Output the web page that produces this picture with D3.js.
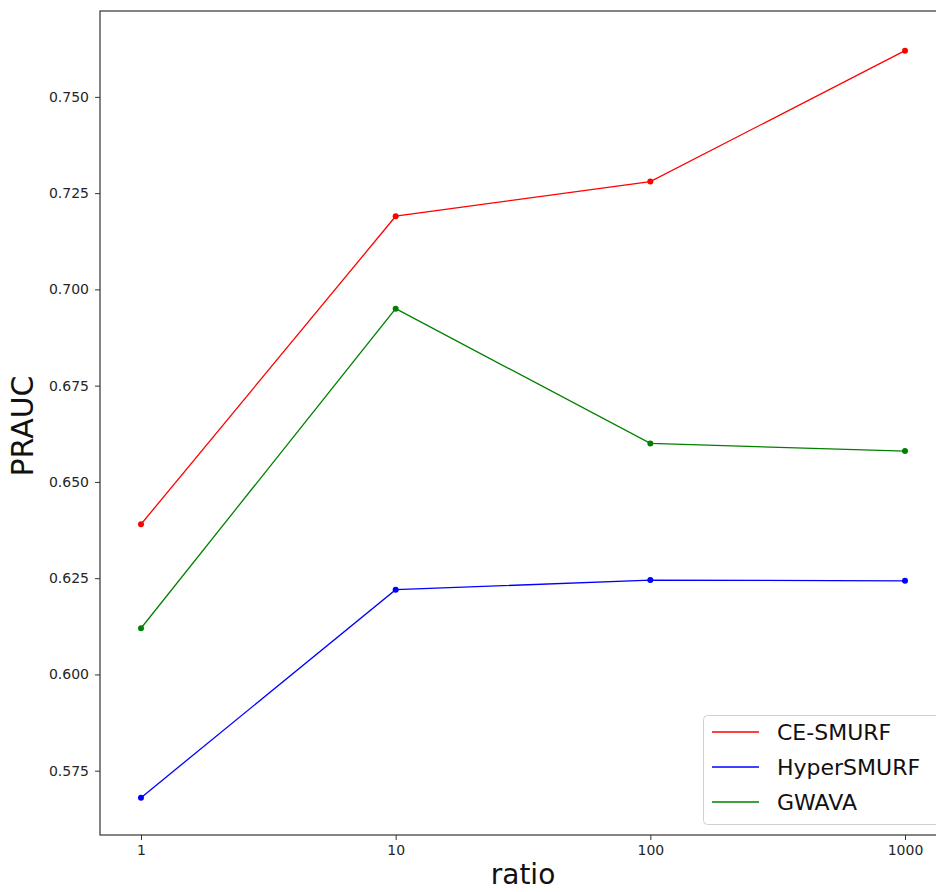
<!DOCTYPE html>
<html>
<head>
<meta charset="utf-8">
<script src="https://cdn.jsdelivr.net/npm/d3@7"></script>
<style>
  body { margin: 0; background: #fff; }
  svg text { font-family: "DejaVu Sans", sans-serif; }
</style>
</head>
<body>
<svg id="chart" width="936" height="892"></svg>
<script>
const ratios = [1, 10, 100, 1000];
const ceSmurf = [0.639, 0.719, 0.728, 0.762];
const hyperSmurf = [0.568, 0.622, 0.6245, 0.6243];
const gwava = [0.612, 0.695, 0.660, 0.658];
const yTicks = [0.575, 0.600, 0.625, 0.650, 0.675, 0.700, 0.725, 0.750];

const series = [
    {name: "CE-SMURF", color: "#ff0000", values: ceSmurf},
    {name: "HyperSMURF", color: "#0000ff", values: hyperSmurf},
    {name: "GWAVA", color: "#008000", values: gwava}
];

const plotLeft = 100, plotRight = 946, plotTop = 11, plotBottom = 835;

let svg = d3.select("#chart");

const x = d3.scaleLog()
    .domain([Math.pow(10, -0.161), Math.pow(10, 3.161)])
    .range([plotLeft, plotRight]);

const y = d3.scaleLinear()
    .domain([0.5583, 0.7723])
    .range([plotBottom, plotTop]);

// axes
let xAxis = svg.append("g")
    .attr("transform", `translate(0,${plotBottom})`)
    .call(d3.axisBottom(x).tickValues(ratios).tickFormat(d3.format("d")).tickSize(5).tickPadding(5));

let yAxis = svg.append("g")
    .attr("transform", `translate(${plotLeft},0)`)
    .call(d3.axisLeft(y).tickValues(yTicks).tickFormat(d3.format(".3f")).tickSize(5).tickPadding(6));

for (const ax of [xAxis, yAxis]) {
    ax.select(".domain").remove();
    ax.selectAll("line").attr("stroke", "#333");
    ax.selectAll("text")
        .attr("fill", "#262626")
        .style("font-size", "14px");
}

// frame
svg.append("rect")
    .attr("x", plotLeft)
    .attr("y", plotTop)
    .attr("width", plotRight - plotLeft)
    .attr("height", plotBottom - plotTop)
    .attr("fill", "none")
    .attr("stroke", "#333")
    .attr("stroke-width", 1.2);

// lines
const line = d3.line()
    .x((d, i) => x(ratios[i]))
    .y(d => y(d));

for (const s of series) {
    let g = svg.append("g");
    g.append("path")
        .datum(s.values)
        .attr("d", line)
        .attr("fill", "none")
        .attr("stroke", s.color)
        .attr("stroke-width", 1.3);

    g.selectAll("circle")
        .data(s.values)
        .join("circle")
        .attr("cx", (d, i) => x(ratios[i]))
        .attr("cy", d => y(d))
        .attr("r", 3)
        .attr("fill", s.color);
}

// axis labels
svg.append("text")
    .attr("x", (plotLeft + plotRight) / 2)
    .attr("y", 884)
    .attr("text-anchor", "middle")
    .attr("fill", "#111")
    .style("font-size", "28px")
    .text("ratio");

svg.append("text")
    .attr("transform", "translate(33,426) rotate(-90)")
    .attr("text-anchor", "middle")
    .attr("fill", "#111")
    .style("font-size", "30px")
    .text("PRAUC");

// legend
let legend = svg.append("g");
legend.append("rect")
    .attr("x", 703.5)
    .attr("y", 715.5)
    .attr("width", 240)
    .attr("height", 109)
    .attr("rx", 4)
    .attr("fill", "#fff")
    .attr("fill-opacity", 0.8)
    .attr("stroke", "#d0d0d0");

series.forEach((s, i) => {
    let cy = 732 + i * 35;
    legend.append("line")
        .attr("x1", 712)
        .attr("x2", 759)
        .attr("y1", cy)
        .attr("y2", cy)
        .attr("stroke", s.color)
        .attr("stroke-width", 1.3);
    legend.append("text")
        .attr("x", 777)
        .attr("y", cy)
        .attr("dy", "0.36em")
        .attr("fill", "#111")
        .style("font-size", "22px")
        .text(s.name);
});
</script>
</body>
</html>
